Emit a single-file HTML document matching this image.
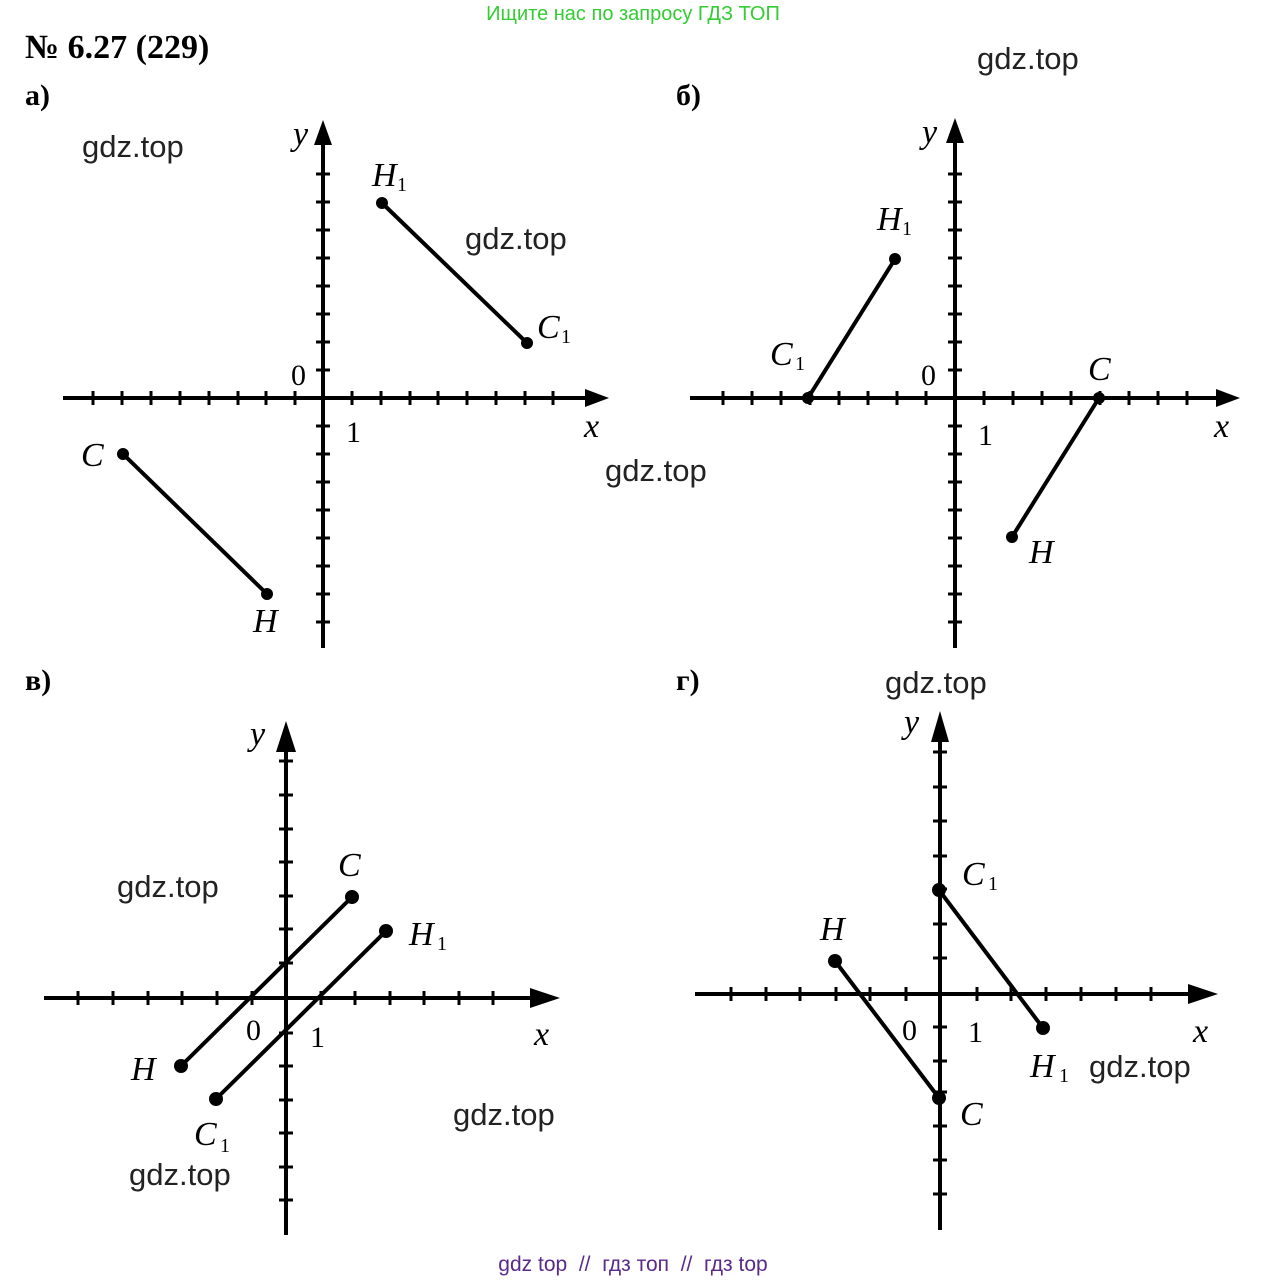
<!DOCTYPE html>
<html><head><meta charset="utf-8"><style>
html,body{margin:0;padding:0;background:#fff;}
body{width:1269px;height:1281px;overflow:hidden;position:relative;}
svg{position:absolute;left:0;top:0;}
.w{font-family:"Liberation Sans",sans-serif;font-size:31px;fill:#222;}
.l{font-family:"Liberation Serif",serif;font-style:italic;font-size:34px;fill:#000;}
.s{font-family:"Liberation Serif",serif;font-size:20px;fill:#000;}
.n{font-family:"Liberation Serif",serif;font-size:30px;fill:#000;}
.b{font-family:"Liberation Serif",serif;font-weight:bold;font-size:30px;fill:#000;}
</style></head><body>
<svg width="1269" height="1281" viewBox="0 0 1269 1281" xmlns="http://www.w3.org/2000/svg">
<text x="633" y="20" text-anchor="middle" font-family="Liberation Sans,sans-serif" font-size="20" fill="#33cc33">Ищите нас по запросу ГДЗ ТОП</text>
<text x="633" y="1271" text-anchor="middle" font-family="Liberation Sans,sans-serif" font-size="21" fill="#5a2a8a" xml:space="preserve">gdz top  //  гдз топ  //  гдз top</text>
<text class="b" x="25" y="58" style="font-size:34px">№ 6.27 (229)</text>
<text class="b" x="25" y="105">а)</text>
<text class="b" x="676" y="105">б)</text>
<text class="b" x="25" y="690">в)</text>
<text class="b" x="676" y="690">г)</text>

<g stroke="#000" stroke-width="4" fill="none">
<path d="M63 398H595M323 648V135"/>
<path stroke-width="3" d="M93 391v14M122 391v14M151 391v14M180 391v14M209 391v14M238 391v14M266 391v14M295 391v14M352 391v14M381 391v14M410 391v14M438 391v14M467 391v14M496 391v14M525 391v14M553 391v14M316 174h14M316 202h14M316 230h14M316 258h14M316 286h14M316 314h14M316 342h14M316 370h14M316 426h14M316 454h14M316 482h14M316 510h14M316 538h14M316 566h14M316 594h14M316 622h14"/>
<path d="M382 203L527 343M123 454L267 594"/>
<path d="M690 398H1225M955 648V135"/>
<path stroke-width="3" d="M723 391v14M752 391v14M781 391v14M810 391v14M839 391v14M868 391v14M897 391v14M926 391v14M984 391v14M1013 391v14M1042 391v14M1071 391v14M1100 391v14M1129 391v14M1158 391v14M1187 391v14M948 174h14M948 202h14M948 230h14M948 258h14M948 286h14M948 314h14M948 342h14M948 370h14M948 426h14M948 454h14M948 482h14M948 510h14M948 538h14M948 566h14M948 594h14M948 622h14"/>
<path d="M808 398L895 259M1099 398L1012 537"/>
<path d="M44 998H545M286 1235V740"/>
<path stroke-width="3" d="M78 991v14M113 991v14M148 991v14M182 991v14M217 991v14M252 991v14M321 991v14M355 991v14M390 991v14M424 991v14M459 991v14M493 991v14M279 761h14M279 795h14M279 829h14M279 862h14M279 896h14M279 929h14M279 963h14M279 1033h14M279 1066h14M279 1100h14M279 1133h14M279 1167h14M279 1200h14"/>
<path d="M352 897L181 1066M386 931L216 1099"/>
<path d="M695 994H1200M940 1230V730"/>
<path stroke-width="3" d="M731 987v14M766 987v14M800 987v14M836 987v14M870 987v14M906 987v14M977 987v14M1011 987v14M1046 987v14M1081 987v14M1116 987v14M1151 987v14M933 752h14M933 787h14M933 821h14M933 856h14M933 889h14M933 924h14M933 958h14M933 1027h14M933 1061h14M933 1092h14M933 1126h14M933 1160h14M933 1194h14"/>
<path d="M939 890L1043 1028M835 961L939 1098"/>
</g>
<g fill="#000">
<path d="M609 398L585 389V407Z"/><path d="M323 120L314 145H332Z"/>
<path d="M1240 398L1216 389V407Z"/><path d="M955 118L946 143H964Z"/>
<path d="M560 998L530 988V1008Z"/><path d="M286 721L276 752H296Z"/>
<path d="M1218 994L1188 984V1004Z"/><path d="M940 711L931 742H949Z"/>
<circle cx="382" cy="203" r="6"/><circle cx="527" cy="343" r="6"/><circle cx="123" cy="454" r="6"/><circle cx="267" cy="594" r="6"/>
<circle cx="808" cy="398" r="6"/><circle cx="895" cy="259" r="6"/><circle cx="1099" cy="398" r="6"/><circle cx="1012" cy="537" r="6"/>
<circle cx="352" cy="897" r="7"/><circle cx="386" cy="931" r="7"/><circle cx="181" cy="1066" r="7"/><circle cx="216" cy="1099" r="7"/>
<circle cx="939" cy="890" r="7"/><circle cx="1043" cy="1028" r="7"/><circle cx="835" cy="961" r="7"/><circle cx="939" cy="1098" r="7"/>
</g>
<text class="l" x="293" y="145" font-size="30">y</text>
<text class="l" x="372" y="186" font-size="30">H</text><text class="s" x="397" y="191">1</text>
<text class="l" x="537" y="338" font-size="30">C</text><text class="s" x="561" y="343">1</text>
<text class="l" x="81" y="466" font-size="30">C</text>
<text class="l" x="253" y="632" font-size="30">H</text>
<text class="n" x="291" y="385" font-size="28">0</text>
<text class="n" x="346" y="442" font-size="28">1</text>
<text class="l" x="584" y="437" font-size="30">x</text>
<text class="l" x="922" y="143" font-size="30">y</text>
<text class="l" x="877" y="230" font-size="30">H</text><text class="s" x="902" y="235">1</text>
<text class="l" x="770" y="365" font-size="30">C</text><text class="s" x="795" y="370">1</text>
<text class="l" x="1088" y="380" font-size="30">C</text>
<text class="l" x="1029" y="563" font-size="30">H</text>
<text class="n" x="921" y="385" font-size="28">0</text>
<text class="n" x="978" y="445" font-size="28">1</text>
<text class="l" x="1214" y="437" font-size="30">x</text>
<text class="l" x="250" y="745">y</text>
<text class="l" x="338" y="876">C</text>
<text class="l" x="409" y="945">H</text><text class="s" x="437" y="950" font-size="24">1</text>
<text class="l" x="131" y="1080">H</text>
<text class="l" x="194" y="1145">C</text><text class="s" x="220" y="1152" font-size="24">1</text>
<text class="n" x="246" y="1040" font-size="36">0</text>
<text class="n" x="310" y="1047" font-size="36">1</text>
<text class="l" x="534" y="1045">x</text>
<text class="l" x="904" y="733">y</text>
<text class="l" x="962" y="885">C</text><text class="s" x="988" y="890" font-size="24">1</text>
<text class="l" x="820" y="940">H</text>
<text class="l" x="1030" y="1077">H</text><text class="s" x="1059" y="1082" font-size="24">1</text>
<text class="l" x="960" y="1125">C</text>
<text class="n" x="902" y="1040" font-size="32">0</text>
<text class="n" x="968" y="1042" font-size="32">1</text>
<text class="l" x="1193" y="1042">x</text>
<text class="w" x="82" y="157">gdz.top</text>
<text class="w" x="465" y="249">gdz.top</text>
<text class="w" x="977" y="69">gdz.top</text>
<text class="w" x="605" y="481">gdz.top</text>
<text class="w" x="885" y="693">gdz.top</text>
<text class="w" x="117" y="897">gdz.top</text>
<text class="w" x="453" y="1125">gdz.top</text>
<text class="w" x="129" y="1185">gdz.top</text>
<text class="w" x="1089" y="1077">gdz.top</text>
</svg>
</body></html>
